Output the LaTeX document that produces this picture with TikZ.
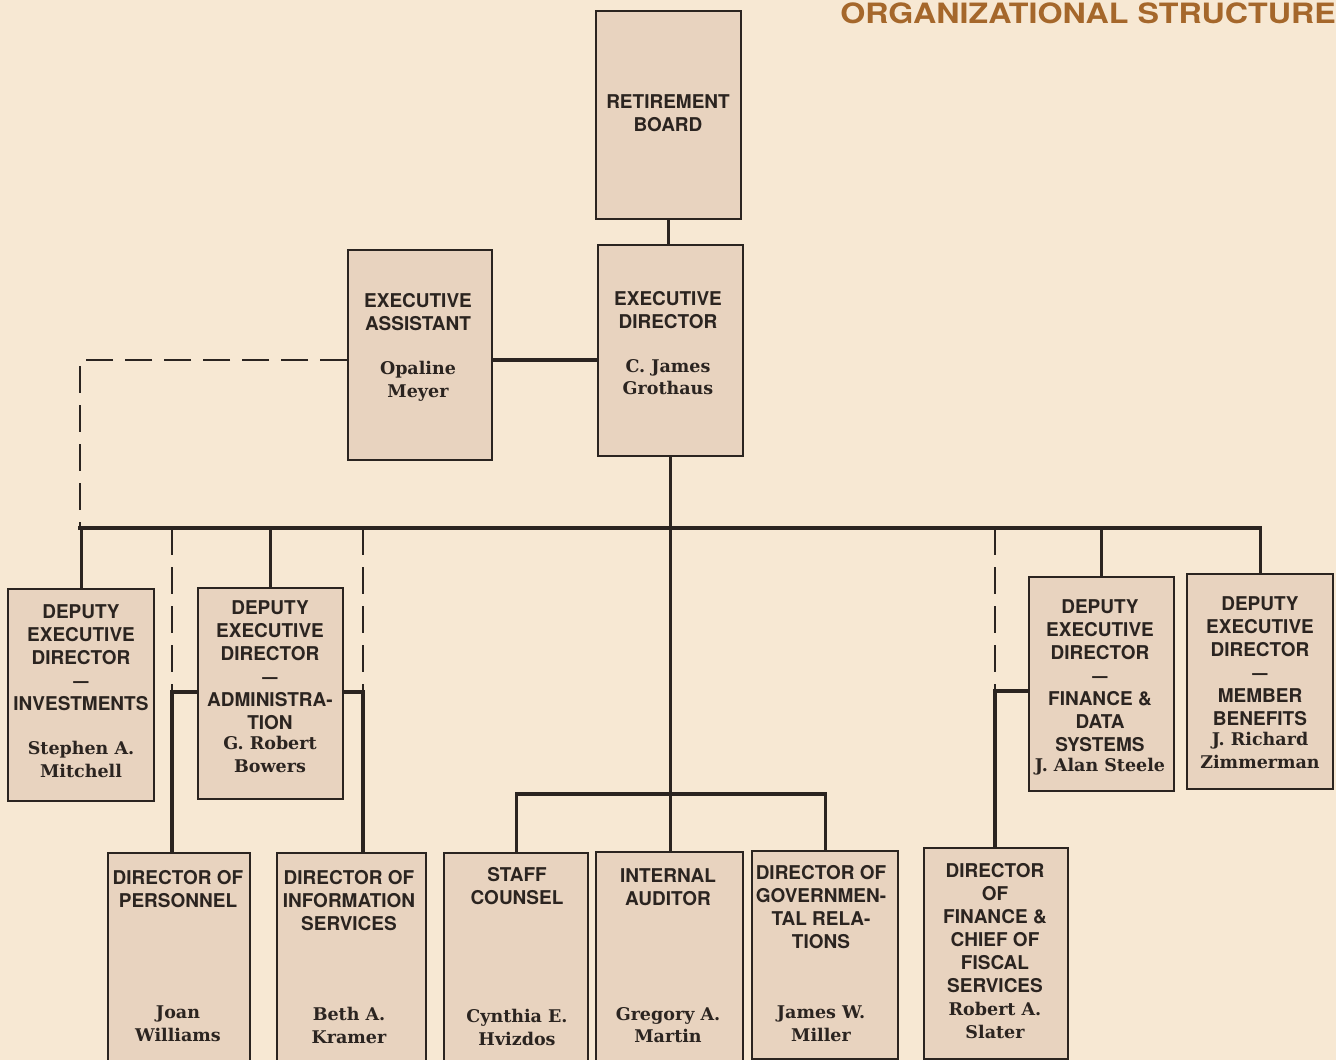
\documentclass[tikz,border=0pt]{standalone}
\usepackage{fontspec}
\setmainfont{DejaVu Serif}
\newfontfamily\hv{TeX Gyre Heros}
\newfontfamily\nm{DejaVu Serif}
\usetikzlibrary{calc}
\definecolor{bg}{HTML}{F7E8D3}
\definecolor{boxfill}{HTML}{E8D3BF}
\definecolor{ink}{HTML}{2B2420}
\definecolor{titlec}{HTML}{A5672B}
\newcommand{\dsh}{\scalebox{0.8}[1]{\textemdash}}
\tikzset{
  box/.style={draw=ink, fill=boxfill, line width=2.2pt, inner sep=0pt, anchor=north west},
  conn/.style={draw=ink, line width=3.2pt, line cap=rect, line join=miter},
  dconn/.style={draw=ink, line width=2.8pt, dash pattern=on 27pt off 12pt},
  ttl/.style={font=\hv\bfseries\fontsize{19}{23}\selectfont, align=center, anchor=north, inner sep=0pt, text=ink},
  nam/.style={font=\nm\bfseries\fontsize{17.5}{22.5}\selectfont, align=center, anchor=north, inner sep=0pt, text=ink},
}
\begin{document}
\begin{tikzpicture}[x=1pt,y=-1pt]
\useasboundingbox (0,0) rectangle (1336,1060);
\fill[bg] (0,0) rectangle (1336,1060);
\clip (0,0) rectangle (1336,1060);

% title
\node[anchor=north east, inner sep=0pt, text=titlec, font=\hv\bfseries\fontsize{28}{28}\selectfont] (title) at (1336,3) {\scalebox{1.15}[1]{ORGANIZATIONAL STRUCTURE}};

% boxes
\node[box, minimum width=145pt, minimum height=208pt] (rb) at (595,10) {};
\node[box, minimum width=145pt, minimum height=211pt] (ed) at (597,244) {};
\node[box, minimum width=144pt, minimum height=210pt] (ea) at (347,249) {};
\node[box, minimum width=146pt, minimum height=212pt] (dInv) at (7,588) {};
\node[box, minimum width=145pt, minimum height=211pt] (dAdm) at (197,587) {};
\node[box, minimum width=145pt, minimum height=214pt] (dFin) at (1028,576) {};
\node[box, minimum width=146pt, minimum height=215pt] (dMem) at (1186,573) {};
\node[box, minimum width=142pt, minimum height=230pt] (per) at (107,852) {};
\node[box, minimum width=149pt, minimum height=230pt] (info) at (276,852) {};
\node[box, minimum width=144pt, minimum height=230pt] (staff) at (443,852) {};
\node[box, minimum width=147pt, minimum height=230pt] (aud) at (595,851) {};
\node[box, minimum width=146pt, minimum height=208pt] (gov) at (751,850) {};
\node[box, minimum width=144pt, minimum height=211pt] (fin) at (923,847) {};

% junction coordinates
\coordinate (busL) at (80,528);
\coordinate (busR) at (1259,528);
\coordinate (j1) at (0,360);
\coordinate (c1) at (172,692);
\coordinate (c2) at (363,692);
\coordinate (c3) at (995,691);
\coordinate (b2) at (669,794);

% solid connectors
\draw[conn] (rb.south) -- (rb.south |- ed.north);
\draw[conn] (ea.east |- j1) -- (ed.west |- j1);
\draw[conn] (ed.south) -- (ed.south |- aud.north);
\draw[conn] (busL) -- (busR);
\draw[conn] (dInv.north) -- (dInv.north |- busL);
\draw[conn] (dAdm.north) -- (dAdm.north |- busL);
\draw[conn] (dFin.north) -- (dFin.north |- busR);
\draw[conn] (dMem.north) -- (dMem.north |- busR);
\draw[conn] (dAdm.west |- c1) -- (c1) -- (c1 |- per.north);
\draw[conn] (dAdm.east |- c2) -- (c2) -- (c2 |- info.north);
\draw[conn] (dFin.west |- c3) -- (c3) -- (c3 |- fin.north);
\draw[conn] (staff.north) -- (staff.north |- b2) -- (gov.north |- b2) -- (gov.north);

% dashed connectors
\draw[dconn] (ea.west |- j1) -- (busL |- j1) -- (busL);
\draw[dconn] (c1 |- busL) -- (c1);
\draw[dconn] (c2 |- busL) -- (c2);
\draw[dconn] (c3 |- busR) -- (c3);

% texts
\node[ttl] (rbT) at (668,94) {RETIREMENT\\BOARD};
\node[ttl] (eaT) at (418,293) {EXECUTIVE\\ASSISTANT};
\node[nam] (eaN) at (418,361) {Opaline\\Meyer};
\node[ttl] (edT) at (668,291) {EXECUTIVE\\DIRECTOR};
\node[nam] (edN) at (668,359) {C. James\\Grothaus};
\node[ttl] (dInvT) at (81,604) {DEPUTY\\EXECUTIVE\\DIRECTOR\\\dsh\\INVESTMENTS};
\node[nam] (dInvN) at (81,741) {Stephen A.\\Mitchell};
\node[ttl] (dAdmT) at (270,600) {DEPUTY\\EXECUTIVE\\DIRECTOR\\\dsh\\ADMINISTRA-\\TION};
\node[nam] (dAdmN) at (270,736) {G. Robert\\Bowers};
\node[ttl] (dFinT) at (1100,599) {DEPUTY\\EXECUTIVE\\DIRECTOR\\\dsh\\FINANCE \&\\DATA\\SYSTEMS};
\node[nam] (dFinN) at (1100,758) {J. Alan Steele};
\node[ttl] (dMemT) at (1260,596) {DEPUTY\\EXECUTIVE\\DIRECTOR\\\dsh\\MEMBER\\BENEFITS};
\node[nam] (dMemN) at (1260,732) {J. Richard\\Zimmerman};
\node[ttl] (perT) at (178,870) {DIRECTOR OF\\PERSONNEL};
\node[nam] (perN) at (178,1006) {Joan\\Williams};
\node[ttl] (infoT) at (349,870) {DIRECTOR OF\\INFORMATION\\SERVICES};
\node[nam] (infoN) at (349,1007) {Beth A.\\Kramer};
\node[ttl] (staffT) at (517,867) {STAFF\\COUNSEL};
\node[nam] (staffN) at (517,1009) {Cynthia E.\\Hvizdos};
\node[ttl] (audT) at (668,868) {INTERNAL\\AUDITOR};
\node[nam] (audN) at (668,1007) {Gregory A.\\Martin};
\node[ttl] (govT) at (821,865) {DIRECTOR OF\\GOVERNMEN-\\TAL RELA-\\TIONS};
\node[nam] (govN) at (821,1006) {James W.\\Miller};
\node[ttl] (finT) at (995,863) {DIRECTOR\\OF\\FINANCE \&\\CHIEF OF\\FISCAL\\SERVICES};
\node[nam] (finN) at (995,1002) {Robert A.\\Slater};
\end{tikzpicture}
\end{document}
